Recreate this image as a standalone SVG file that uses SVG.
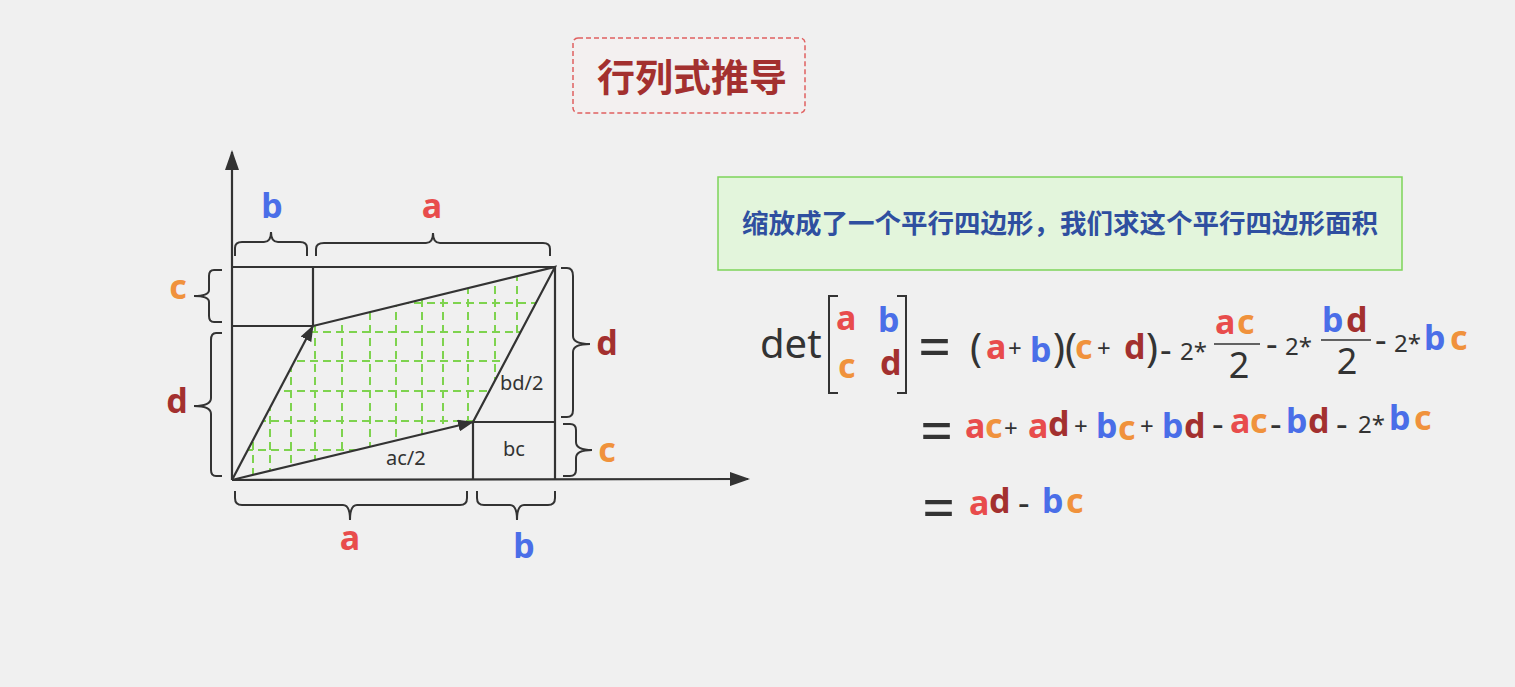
<svg xmlns="http://www.w3.org/2000/svg" width="1515" height="687" viewBox="0 0 1515 687">
<style>
.ln{stroke:#333;stroke-width:2.2;fill:none}
.br{stroke:#333;stroke-width:2;fill:none}
.g{stroke:#7ed34f;stroke-width:2;stroke-dasharray:8 5;fill:none}
text{font-family:"Noto Sans","Open Sans","Noto Sans CJK SC",sans-serif}
.L{font-weight:bold;font-size:34px}
.a{fill:#e84c4c}.b{fill:#4a6ee8}.c{fill:#f0923c}.d{fill:#a3302f}.k{fill:#333}
.s{font-size:20px;fill:#333}
.f{font-weight:bold;font-size:34px}
.eq{font-size:58px;fill:#333}
</style>
<defs>
<marker id="ar" markerWidth="16" markerHeight="12" refX="15" refY="6" orient="auto" markerUnits="userSpaceOnUse"><path d="M0,0 L16,6 L0,12 Z" fill="#333"/></marker>
<marker id="ax" markerWidth="20" markerHeight="14" refX="18" refY="7" orient="auto" markerUnits="userSpaceOnUse"><path d="M0,0 L20,7 L0,14 Z" fill="#333"/></marker>
<clipPath id="cp"><polygon points="232,480 313,326 555,267 473,422"/></clipPath>
</defs>
<rect width="1515" height="687" fill="#f0f0f0"/>
<g id="title"><rect x="573" y="38" width="232" height="75" rx="5" fill="#f3f0f0" stroke="#e06060" stroke-width="1.5" stroke-dasharray="5 3"/><text x="692" y="91" text-anchor="middle" font-size="38" font-weight="bold" fill="#a3302f">行列式推导</text></g>
<g id="note"><rect x="718" y="177" width="684" height="93" fill="#e3f5dc" stroke="#7ed35a" stroke-width="1.5"/><text x="742" y="233" font-size="26.5" font-weight="bold" fill="#2f4fa0">缩放成了一个平行四边形，我们求这个平行四边形面积</text></g>
<g id="grid" clip-path="url(#cp)">
<path class="g" d="M232,303H560M232,332H560M232,361H560M232,391H560M232,421H560M232,450H560"/>
<path class="g" d="M253,260V490M270,260V490M291,260V490M315,260V490M342,260V490M370,260V490M396,260V490M422,260V490M443,260V490M468,260V490M495,260V490M517,260V490"/>
</g>
<g id="connectors">
<line class="ln" x1="232" y1="480" x2="232" y2="152" marker-end="url(#ax)"/>
<line class="ln" x1="232" y1="480" x2="748" y2="479" marker-end="url(#ax)"/>
<path class="ln" d="M232,267H555V480M313,267V326M232,326H313M473,422V480M473,422H555"/>
<line class="ln" x1="232" y1="480" x2="313" y2="326" marker-end="url(#ar)"/>
<line class="ln" x1="232" y1="480" x2="473" y2="422" marker-end="url(#ar)"/>
<path class="ln" d="M313,326L555,267L473,422"/>
</g>
<g id="braces">
<path class="br" d="M235,256V248Q235,242 242,242H264Q271,242 271,232Q271,242 278,242H300Q307,242 307,248V256"/>
<path class="br" d="M316,256V249Q316,243 324,243H426Q433,243 433,233Q433,243 440,243H543Q550,243 550,249V256"/>
<path class="br" d="M222,270H214Q209,270 209,276V290Q209,296 194,296Q209,296 209,302V316Q209,322 214,322H222"/>
<path class="br" d="M222,333H216Q211,333 211,340V398Q211,406 194,406Q211,406 211,414V470Q211,476 216,476H222"/>
<path class="br" d="M561,268H567Q573,268 573,276V336Q573,344 590,344Q573,344 573,352V410Q573,417 567,417H561"/>
<path class="br" d="M563,424H570Q576,424 576,430V442Q576,450 592,450Q576,450 576,458V470Q576,476 570,476H563"/>
<path class="br" d="M235,491V498Q235,505 242,505H343Q350,505 350,520Q350,505 357,505H460Q467,505 467,498V491"/>
<path class="br" d="M477,491V498Q477,505 484,505H510Q517,505 517,520Q517,505 524,505H548Q555,505 555,498V491"/>
</g>
<g id="labels">
<text class="L b" x="272" y="218" text-anchor="middle">b</text>
<text class="L a" x="432" y="218" text-anchor="middle">a</text>
<text class="L c" x="178" y="299" text-anchor="middle">c</text>
<text class="L d" x="177" y="413" text-anchor="middle">d</text>
<text class="L d" x="607" y="355" text-anchor="middle">d</text>
<text class="L c" x="607" y="462" text-anchor="middle">c</text>
<text class="L a" x="350" y="550" text-anchor="middle">a</text>
<text class="L b" x="524" y="558" text-anchor="middle">b</text>
<text class="s" x="500" y="390">bd/2</text>
<text class="s" x="386" y="465">ac/2</text>
<text class="s" x="503" y="456">bc</text>
</g>
<g id="formula">
<text x="760" y="358" font-size="40" class="k">det</text>
<path class="br" d="M838,296H829V393H838M897,296H906V393H897" stroke-width="2.4"/>
<text class="f a" x="836" y="330">a</text><text class="f b" x="878" y="332">b</text>
<text class="f c" x="838" y="378">c</text><text class="f d" x="880" y="375">d</text>
<text x="918" y="368" class="eq">=</text>
<text x="970" y="362" font-size="40" class="k">(</text>
<text class="f a" x="986" y="359">a</text><text x="1008" y="357" font-size="24" class="k">+</text><text class="f b" x="1030" y="362">b</text>
<text x="1053" y="362" font-size="40" class="k">)(</text>
<text class="f c" x="1075" y="359">c</text><text x="1097" y="357" font-size="24" class="k">+</text><text class="f d" x="1124" y="359">d</text>
<text x="1146" y="362" font-size="40" class="k">)</text>
<text x="1160" y="362" font-size="36" class="k">-</text><text x="1180" y="360" font-size="24" class="k">2*</text>
<line x1="1214" y1="344" x2="1260" y2="344" stroke="#333" stroke-width="1.5"/>
<text class="f a" x="1215" y="334">a</text><text class="f c" x="1237" y="334">c</text>
<text x="1239" y="378" font-size="36" class="k" text-anchor="middle">2</text>
<text x="1266" y="356" font-size="36" class="k">-</text><text x="1285" y="355" font-size="24" class="k">2*</text>
<line x1="1321" y1="340" x2="1371" y2="340" stroke="#333" stroke-width="1.5"/>
<text class="f b" x="1322" y="332">b</text><text class="f d" x="1346" y="332">d</text>
<text x="1347" y="374" font-size="36" class="k" text-anchor="middle">2</text>
<text x="1375" y="352" font-size="36" class="k">-</text><text x="1394" y="352" font-size="24" class="k">2*</text>
<text class="f b" x="1424" y="350">b</text><text class="f c" x="1450" y="350">c</text>
<text x="920" y="452" class="eq">=</text>
<text class="f a" x="965" y="438">a</text><text class="f c" x="985" y="438">c</text><text x="1004" y="437" font-size="24" class="k">+</text>
<text class="f a" x="1028" y="438">a</text><text class="f d" x="1048" y="436">d</text><text x="1074" y="435" font-size="24" class="k">+</text>
<text class="f b" x="1096" y="438">b</text><text class="f c" x="1118" y="440">c</text><text x="1140" y="435" font-size="24" class="k">+</text>
<text class="f b" x="1162" y="438">b</text><text class="f d" x="1184" y="438">d</text>
<text x="1212" y="436" font-size="36" class="k">-</text><text class="f a" x="1230" y="433">a</text><text class="f c" x="1250" y="433">c</text>
<text x="1270" y="436" font-size="36" class="k">-</text><text class="f b" x="1286" y="433">b</text><text class="f d" x="1308" y="433">d</text>
<text x="1336" y="436" font-size="36" class="k">-</text><text x="1358" y="433" font-size="24" class="k">2*</text>
<text class="f b" x="1389" y="430">b</text><text class="f c" x="1414" y="430">c</text>
<text x="922" y="529" class="eq">=</text>
<text class="f a" x="969" y="515">a</text><text class="f d" x="989" y="513">d</text>
<text x="1018" y="515" font-size="36" class="k">-</text>
<text class="f b" x="1042" y="513">b</text><text class="f c" x="1066" y="513">c</text>
</g>
</svg>
